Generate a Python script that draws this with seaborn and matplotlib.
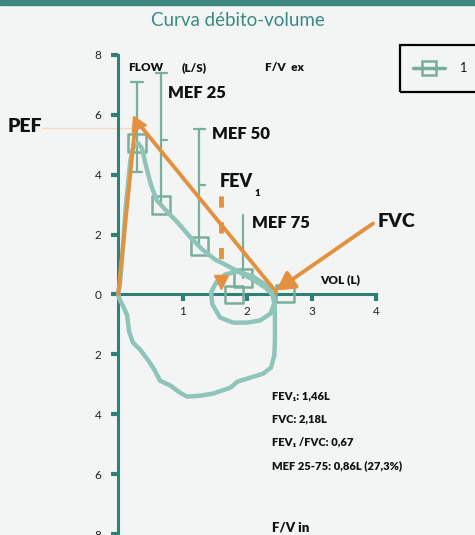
import numpy as np
import pandas as pd
import matplotlib.pyplot as plt
import seaborn as sns
from matplotlib.lines import Line2D
from matplotlib.patches import Rectangle

# flow-volume loop (volume L, flow L/s, inspiration < 0)
loop_vol = [0.00, 0.03, 0.06, 0.09, 0.12, 0.16, 0.19, 0.23, 0.31, 0.37, 0.43, 0.51,
            0.60, 0.74, 0.92, 1.12, 1.30, 1.50, 1.71, 1.91, 2.11, 2.28, 2.39, 2.42,
            2.36, 2.20, 2.00, 1.78, 1.58, 1.46, 1.44, 1.52, 1.66, 1.86, 2.09, 2.30,
            2.42, 2.43, 2.43, 2.42, 2.37, 2.25, 2.00, 1.85, 1.74, 1.47, 1.27, 1.07,
            0.96, 0.81, 0.65, 0.57, 0.47, 0.34, 0.23, 0.17, 0.14, 0.08, 0.03, 0.00]
loop_flow = [0.00, 0.37, 1.14, 2.07, 2.98, 3.81, 4.48, 4.88, 5.05, 4.88, 4.31, 3.65,
             3.14, 2.81, 2.41, 1.91, 1.51, 1.17, 0.94, 0.70, 0.47, 0.23, 0.00, -0.30,
             -0.64, -0.87, -0.94, -0.94, -0.77, -0.33, 0.07, 0.40, 0.67, 0.77, 0.60, 0.30,
             -0.10, -0.70, -1.54, -2.04, -2.44, -2.64, -2.81, -2.91, -3.11, -3.31, -3.38, -3.41,
             -3.28, -3.04, -2.88, -2.54, -2.21, -1.84, -1.61, -1.24, -0.70, -0.40, -0.20, 0.00]

# reference boxes and their ranges
ref_names = ["PEF", "MEF 25", "MEF 50", "MEF 75", "FEV1", "FVC"]
ref_vol = [0.29, 0.67, 1.26, 1.94, 1.80, 2.59]
ref_flow = [5.05, 2.98, 1.61, 0.54, 0.00, 0.03]
ref_top = [7.09, 7.39, 5.52, 2.64, np.nan, np.nan]
ref_low = [4.08, 5.15, 3.65, np.nan, np.nan, np.nan]

# orange construction
pef_vol, pef_flow = 0.27, 5.75
fvc_vol, fvc_flow = 2.45, 0.08
fev1_vol = 1.60
fev1_top, fev1_bottom = 3.30, 0.43

stats = ["FEV\u2081: 1,46L", "FVC: 2,18L", "FEV\u2081 /FVC: 0,67", "MEF 25-75: 0,86L (27,3%)"]
yticks = [-8, -6, -4, -2, 0, 2, 4, 6, 8]
xticks = [1, 2, 3, 4]

sns.set_theme(style="white")
plt.rcParams["font.family"] = ["Lato", "DejaVu Sans"]

teal_dark = "#2f8178"
curve_col = "#8fc4b8"
box_col = "#79ae9c"
orange = "#e3913f"
bg = "#f3f5f5"
ink = "#111111"
W, H = 475, 535

fig = plt.figure(figsize=(4.75, 5.35), dpi=100, facecolor=bg)
ax = fig.add_axes([0, 0, 1, 1])
ax.set_facecolor(bg)
ax.set_xlim(-1.83, 5.53)
ax.set_ylim(-8.03, 9.83)

# top band + title
fig.patches.append(Rectangle((0, 1 - 5 / H), 1, 5 / H, transform=fig.transFigure,
                             color="#3d867e", zorder=0))
fig.text(0.5, 1 - 21 / H, "Curva débito-volume", ha="center", va="center",
         fontsize=13.5, color="#3a8a82")

# axes as spines through the origin
for side in ["top", "right"]:
    ax.spines[side].set_visible(False)
ax.spines["left"].set_position(("data", 0))
ax.spines["bottom"].set_position(("data", 0))
ax.spines["left"].set_bounds(-8, 8)
ax.spines["bottom"].set_bounds(0, 4)
for side in ["left", "bottom"]:
    ax.spines[side].set_color(teal_dark)
    ax.spines[side].set_linewidth(2.2)
ax.set_yticks(yticks)
ax.set_yticklabels([str(abs(v)) for v in yticks])
ax.set_xticks(xticks)
ax.set_xticklabels([str(v) for v in xticks])
ax.tick_params(axis="both", direction="out", length=5, width=3, color=teal_dark,
               labelsize=8.5, labelcolor="#222222")
ax.tick_params(axis="y", pad=7, left=True)
ax.tick_params(axis="x", pad=3, bottom=True)

# PEF reference line
ax.plot([-1.18, 0.2], [5.55, 5.55], color="#f3d9bd", lw=1, zorder=1)

# ranges
for v, f, t, lo in zip(ref_vol, ref_flow, ref_top, ref_low):
    if np.isnan(t):
        continue
    bottom = f if np.isnan(lo) else min(f, lo)
    ax.plot([v, v], [bottom, t], color=box_col, lw=1.6, zorder=2)
for i, (v, t) in enumerate(zip(ref_vol, ref_top)):
    if i < 3:
        ax.plot([v - 0.09, v + 0.09], [t, t], color=box_col, lw=1.6, zorder=2)
ax.plot([ref_vol[0] - 0.08, ref_vol[0] + 0.08], [ref_low[0], ref_low[0]], color=box_col, lw=1.6)
for i in [1, 2]:
    ax.plot([ref_vol[i], ref_vol[i] + 0.09], [ref_low[i], ref_low[i]], color=box_col, lw=1.6)

sns.scatterplot(x=ref_vol, y=ref_flow, marker="s", s=165, facecolor="none",
                edgecolor=box_col, linewidth=1.8, zorder=3, ax=ax)

# measured loop
sns.lineplot(x=loop_vol, y=loop_flow, sort=False, estimator=None, color=curve_col,
             lw=3.2, zorder=4, ax=ax)
ax.lines[-1].set_solid_joinstyle("round")
ax.lines[-1].set_solid_capstyle("round")

# orange PEF / FVC / FEV1 markers
ax.plot([0, pef_vol], [0, pef_flow], color=orange, lw=2.8, zorder=5)
ax.plot([pef_vol + 0.05, fvc_vol], [pef_flow - 0.05, fvc_flow], color=orange, lw=2.8, zorder=5)
ax.plot([pef_vol + 0.03], [pef_flow - 0.05], marker=(3, 0, 25), ms=13, color=orange, zorder=6)
ax.annotate("", xy=(fvc_vol, fvc_flow + 0.05), xytext=(3.95, 2.37),
            arrowprops=dict(arrowstyle="-|>,head_length=0.9,head_width=0.5", color=orange,
                            lw=2.8, shrinkA=0, shrinkB=0), zorder=6)
ax.plot([fev1_vol, fev1_vol], [fev1_top, fev1_bottom + 0.6], color=orange, lw=3.5,
        dashes=(2.3, 3.0), zorder=5)
ax.plot([fev1_vol], [fev1_bottom], marker="v", ms=10, color=orange, zorder=6)

# labels
bold = dict(fontweight="heavy", color=ink, va="center")
ax.text(0.155, 7.56, "FLOW", fontsize=8.5, **bold)
ax.text(0.99, 7.56, "(L/S)", fontsize=8.5, **bold)
ax.text(2.28, 7.56, "F/V  ex", fontsize=8.5, **bold)
ax.text(0.78, 6.74, "MEF 25", fontsize=12, **bold)
ax.text(1.46, 5.35, "MEF 50", fontsize=12, **bold)
ax.text(1.58, 3.76, "FEV", fontsize=13, **bold)
ax.text(2.11, 3.38, "1", fontsize=7, **bold)
ax.text(2.08, 2.37, "MEF 75", fontsize=12, **bold)
ax.text(4.02, 2.42, "FVC", fontsize=14, **bold)
ax.text(-1.71, 5.60, "PEF", fontsize=14, **bold)
ax.text(3.13, 0.50, "VOL (L)", fontsize=8.5, **bold)
for k, s in enumerate(stats):
    ax.text(2.39, -3.38 - 0.78 * k, s, fontsize=8, **bold)
ax.text(2.39, -7.79, "F/V in", fontsize=9.5, **bold)

# legend: open frame running past the right edge
fig.patches.append(Rectangle((400 / W, 1 - 92 / H), 90 / W, 47 / H, transform=fig.transFigure,
                             fill=False, edgecolor="black", lw=1.6, zorder=10))
handle = Line2D([], [], color=box_col, lw=2.5, marker="s", ms=10, mfc="none", mew=1.8)
leg = ax.legend(handles=[handle], labels=["1"], loc="center left",
                bbox_to_anchor=(402 / W, 1 - 68 / H), bbox_transform=fig.transFigure,
                frameon=False, handlelength=2.5, handletextpad=1.2, fontsize=9)
for t in leg.get_texts():
    t.set_color(ink)

fig.savefig("out.png", dpi=100, facecolor=bg)
